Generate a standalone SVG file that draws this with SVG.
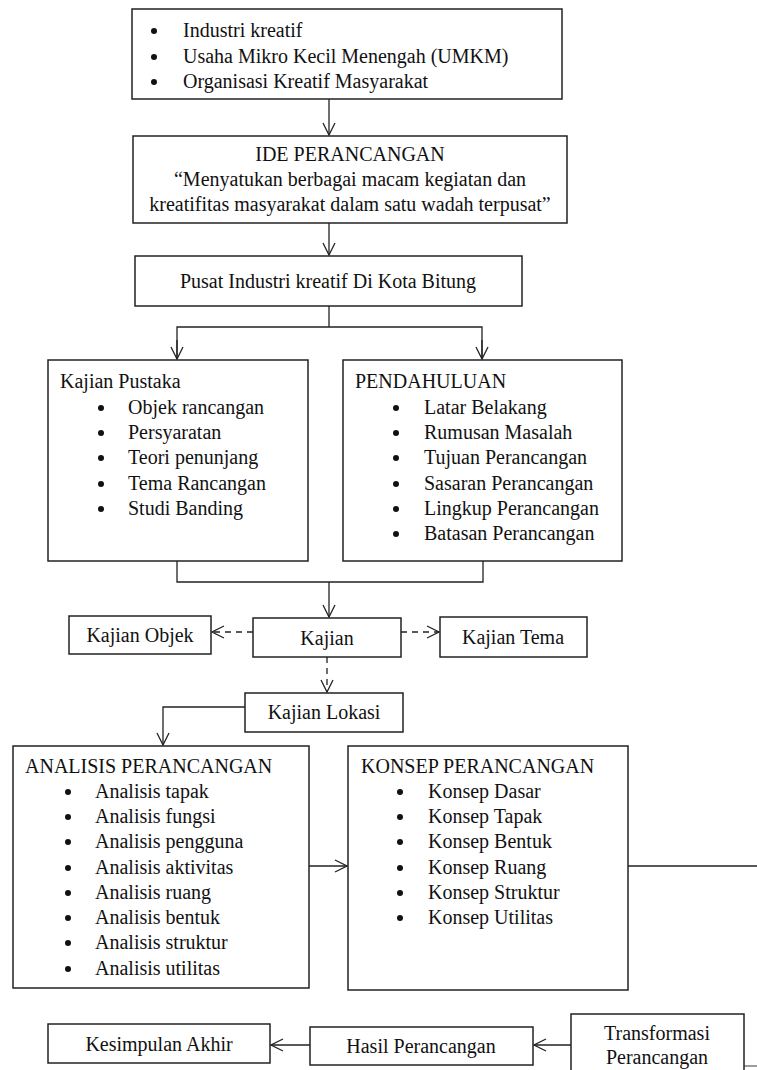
<svg xmlns="http://www.w3.org/2000/svg" width="757" height="1070" viewBox="0 0 757 1070">
<style>
.box{fill:#fff;stroke:#222;stroke-width:1.5}
.ln{fill:none;stroke:#222;stroke-width:1.3}
.dash{fill:none;stroke:#222;stroke-width:1.3;stroke-dasharray:6,5}
text{font-family:'Liberation Serif','Times New Roman',serif;font-size:20px;fill:#111}
.c{text-anchor:middle}
.b{fill:#111}
</style>
<defs>
<marker id="ah" viewBox="0 0 14 14" refX="13" refY="7" markerWidth="14" markerHeight="14" markerUnits="userSpaceOnUse" orient="auto">
<path d="M1,1 L13,7 L1,13" fill="none" stroke="#222" stroke-width="1.3"/>
</marker>
</defs>
<rect width="757" height="1070" fill="#fff"/>
<g id="connectors">
<line class="ln" x1="329" y1="99" x2="329" y2="135" marker-end="url(#ah)"/>
<line class="ln" x1="329" y1="223" x2="329" y2="255" marker-end="url(#ah)"/>
<polyline class="ln" points="329,306 329,327"/>
<polyline class="ln" points="177,359 177,327 482,327 482,359"/>
<line class="ln" x1="177" y1="340" x2="177" y2="359" marker-end="url(#ah)"/>
<line class="ln" x1="482" y1="340" x2="482" y2="359" marker-end="url(#ah)"/>
<polyline class="ln" points="177,561 177,582 483,582 483,561"/>
<line class="ln" x1="329" y1="582" x2="329" y2="617" marker-end="url(#ah)"/>
<line class="dash" x1="253" y1="632" x2="212" y2="632" marker-end="url(#ah)"/>
<line class="dash" x1="401" y1="632" x2="439" y2="632" marker-end="url(#ah)"/>
<line class="dash" x1="327" y1="657" x2="327" y2="692" marker-end="url(#ah)"/>
<polyline class="ln" points="245,707 163,707 163,745" marker-end="url(#ah)"/>
<line class="ln" x1="309" y1="866" x2="347" y2="866" marker-end="url(#ah)"/>
<line class="ln" x1="628" y1="866" x2="757" y2="866"/>
<line class="ln" x1="571" y1="1045" x2="534" y2="1045" marker-end="url(#ah)"/>
<line class="ln" x1="310" y1="1045" x2="271" y2="1045" marker-end="url(#ah)"/>
<line x1="744" y1="1066" x2="757" y2="1066" stroke="#666" stroke-width="1.3"/>
</g>
<g id="sumber">
<rect class="box" x="132" y="9" width="430" height="90"/>
<circle class="b" cx="154" cy="31" r="3"/><text x="183" y="37">Industri kreatif</text>
<circle class="b" cx="154" cy="57" r="3"/><text x="183" y="63">Usaha Mikro Kecil Menengah (UMKM)</text>
<circle class="b" cx="154" cy="82" r="3"/><text x="183" y="88">Organisasi Kreatif Masyarakat</text>
</g>
<g id="ide">
<rect class="box" x="133" y="136" width="434" height="87"/>
<text class="c" x="350" y="161">IDE PERANCANGAN</text>
<text class="c" x="350" y="186">“Menyatukan berbagai macam kegiatan dan</text>
<text class="c" x="350" y="211">kreatifitas masyarakat dalam satu wadah terpusat”</text>
</g>
<g id="pusat">
<rect class="box" x="135" y="256" width="387" height="50"/>
<text class="c" x="328" y="288">Pusat Industri kreatif Di Kota Bitung</text>
</g>
<g id="kajian-pustaka">
<rect class="box" x="48" y="360" width="260" height="201"/>
<text x="60" y="388">Kajian Pustaka</text>
<circle class="b" cx="101" cy="408" r="3"/><text x="128" y="414">Objek rancangan</text>
<circle class="b" cx="101" cy="433" r="3"/><text x="128" y="439">Persyaratan</text>
<circle class="b" cx="101" cy="458" r="3"/><text x="128" y="464">Teori penunjang</text>
<circle class="b" cx="101" cy="484" r="3"/><text x="128" y="490">Tema Rancangan</text>
<circle class="b" cx="101" cy="509" r="3"/><text x="128" y="515">Studi Banding</text>
</g>
<g id="pendahuluan">
<rect class="box" x="343" y="360" width="279" height="201"/>
<text x="355" y="388">PENDAHULUAN</text>
<circle class="b" cx="396" cy="408" r="3"/><text x="424" y="414">Latar Belakang</text>
<circle class="b" cx="396" cy="433" r="3"/><text x="424" y="439">Rumusan Masalah</text>
<circle class="b" cx="396" cy="458" r="3"/><text x="424" y="464">Tujuan Perancangan</text>
<circle class="b" cx="396" cy="484" r="3"/><text x="424" y="490">Sasaran Perancangan</text>
<circle class="b" cx="396" cy="509" r="3"/><text x="424" y="515">Lingkup Perancangan</text>
<circle class="b" cx="396" cy="534" r="3"/><text x="424" y="540">Batasan Perancangan</text>
</g>
<g id="kajian">
<rect class="box" x="253" y="618" width="148" height="39"/>
<text class="c" x="327" y="645">Kajian</text>
</g>
<g id="kajian-objek">
<rect class="box" x="69" y="616" width="142" height="38"/>
<text class="c" x="140" y="642">Kajian Objek</text>
</g>
<g id="kajian-tema">
<rect class="box" x="440" y="617" width="147" height="40"/>
<text class="c" x="513" y="644">Kajian Tema</text>
</g>
<g id="kajian-lokasi">
<rect class="box" x="245" y="693" width="158" height="39"/>
<text class="c" x="324" y="719">Kajian Lokasi</text>
</g>
<g id="analisis">
<rect class="box" x="13" y="746" width="296" height="242"/>
<text x="25" y="773">ANALISIS PERANCANGAN</text>
<circle class="b" cx="68" cy="792" r="3"/><text x="95" y="798">Analisis tapak</text>
<circle class="b" cx="68" cy="817" r="3"/><text x="95" y="823">Analisis fungsi</text>
<circle class="b" cx="68" cy="842" r="3"/><text x="95" y="848">Analisis pengguna</text>
<circle class="b" cx="68" cy="868" r="3"/><text x="95" y="874">Analisis aktivitas</text>
<circle class="b" cx="68" cy="893" r="3"/><text x="95" y="899">Analisis ruang</text>
<circle class="b" cx="68" cy="918" r="3"/><text x="95" y="924">Analisis bentuk</text>
<circle class="b" cx="68" cy="943" r="3"/><text x="95" y="949">Analisis struktur</text>
<circle class="b" cx="68" cy="969" r="3"/><text x="95" y="975">Analisis utilitas</text>
</g>
<g id="konsep">
<rect class="box" x="348" y="746" width="280" height="244"/>
<text x="361" y="773">KONSEP PERANCANGAN</text>
<circle class="b" cx="400" cy="792" r="3"/><text x="428" y="798">Konsep Dasar</text>
<circle class="b" cx="400" cy="817" r="3"/><text x="428" y="823">Konsep Tapak</text>
<circle class="b" cx="400" cy="842" r="3"/><text x="428" y="848">Konsep Bentuk</text>
<circle class="b" cx="400" cy="868" r="3"/><text x="428" y="874">Konsep Ruang</text>
<circle class="b" cx="400" cy="893" r="3"/><text x="428" y="899">Konsep Struktur</text>
<circle class="b" cx="400" cy="918" r="3"/><text x="428" y="924">Konsep Utilitas</text>
</g>
<g id="kesimpulan">
<rect class="box" x="48" y="1024" width="222" height="39"/>
<text class="c" x="159" y="1051">Kesimpulan Akhir</text>
</g>
<g id="hasil">
<rect class="box" x="310" y="1027" width="223" height="38"/>
<text class="c" x="421" y="1053">Hasil Perancangan</text>
</g>
<g id="transformasi">
<rect class="box" x="571" y="1014" width="173" height="62"/>
<text class="c" x="657" y="1040">Transformasi</text>
<text class="c" x="657" y="1064">Perancangan</text>
</g>
</svg>
